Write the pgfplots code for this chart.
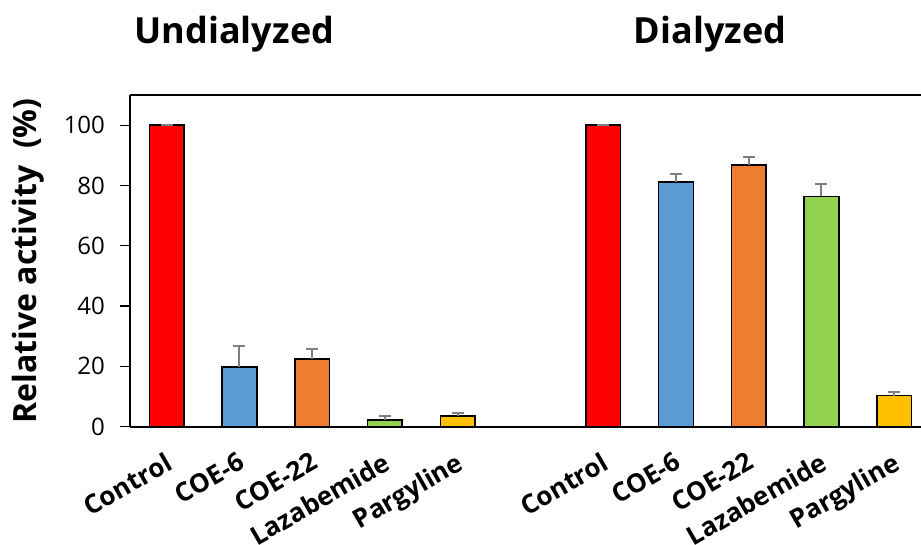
\documentclass[border=0pt]{standalone}
\usepackage{fontspec}
\setmainfont{Open Sans}
\usepackage{pgfplots}
\pgfplotsset{compat=1.18}
\definecolor{cred}{HTML}{FF0000}
\definecolor{cblue}{HTML}{5B9BD5}
\definecolor{corange}{HTML}{ED7D31}
\definecolor{cgreen}{HTML}{92D050}
\definecolor{cyellow}{HTML}{FFC000}
\definecolor{errgray}{HTML}{7F7F7F}
\begin{document}
\begin{tikzpicture}
\useasboundingbox (-65pt,-59.15pt) rectangle (395.5pt,213.35pt);
\begin{axis}[
  at={(0,0)}, anchor=south west,
  scale only axis, width=395.5pt, height=165.85pt,
  xmin=-0.504, xmax=10.368, ymin=0, ymax=110,
  clip=false,
  axis x line=box, axis y line=left,
  x axis line style={-, line width=1pt},
  y axis line style={-, line width=1pt},
  ybar, bar width=17.35pt,
  xtick={0,1,2,3,4,6,7,8,9,10},
  xticklabels={Control,COE-6,COE-22,Lazabemide,Pargyline,Control,COE-6,COE-22,Lazabemide,Pargyline},
  xtick style={draw=none},
  xticklabel style={font=\fontsize{13}{15}\selectfont\bfseries, anchor=north east, inner sep=0pt, xshift=-1.2pt, yshift=-7pt, rotate=30},
  ytick={0,20,40,60,80,100},
  tick align=outside,
  major tick length=5pt,
  ytick style={line width=0.6pt, black},
  yticklabel style={font=\fontsize{12}{14}\selectfont, xshift=-4pt},
  /pgf/number format/assume math mode=true,
  ylabel={Relative activity\ \ (\%)},
  ylabel style={font=\fontsize{16}{18}\selectfont\bfseries, at={(axis description cs:-0.129,0.5)}, anchor=center},
  every axis plot/.append style={draw=black, line width=0.8pt, bar shift=0pt},
  error bars/y dir=plus, error bars/y explicit,
  error bars/error bar style={line width=1pt, draw=errgray},
  error bars/error mark options={rotate=90, draw=errgray, line width=1pt, mark size=3pt},
]
\addplot[fill=cred] coordinates {(0,100) +- (0,0) (6,100) +- (0,0)};
\addplot[fill=cblue] coordinates {(1,19.7) +- (0,7.0) (7,81.2) +- (0,2.6)};
\addplot[fill=corange] coordinates {(2,22.5) +- (0,3.4) (8,86.7) +- (0,2.7)};
\addplot[fill=cgreen] coordinates {(3,2.3) +- (0,1.3) (9,76.4) +- (0,4.0)};
\addplot[fill=cyellow] coordinates {(4,3.5) +- (0,1.2) (10,10.3) +- (0,1.3)};
\node[font=\fontsize{18}{20}\selectfont\bfseries, anchor=base] at (axis cs:0.93,127.2) {Undialyzed};
\node[font=\fontsize{18}{20}\selectfont\bfseries, anchor=base] at (axis cs:7.47,127.2) {Dialyzed};
\end{axis}
\end{tikzpicture}
\end{document}
